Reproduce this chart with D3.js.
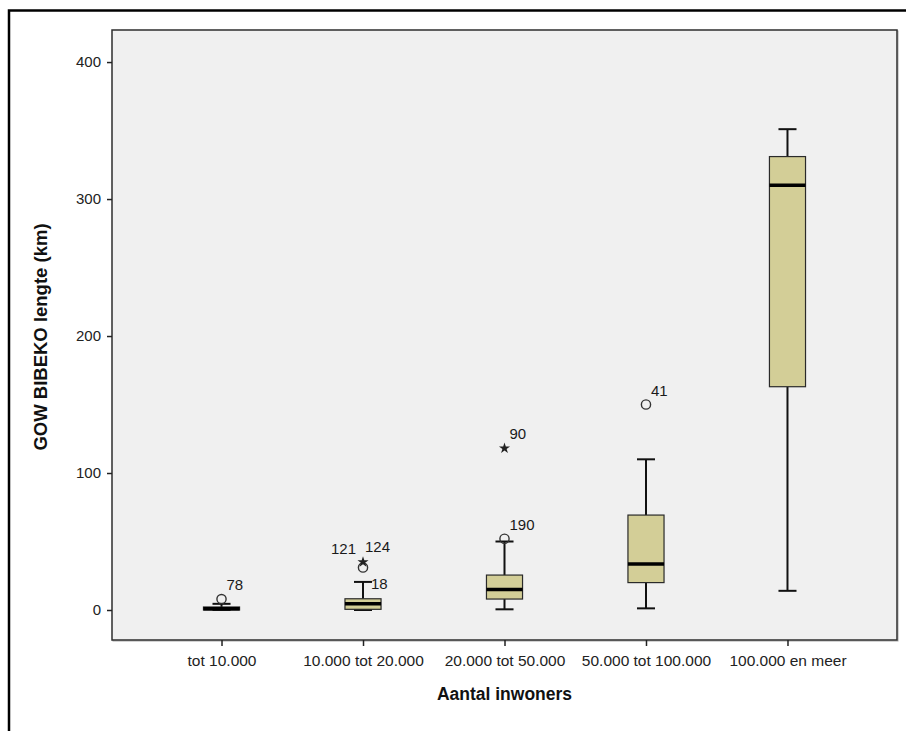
<!DOCTYPE html>
<html>
<head>
<meta charset="utf-8">
<script src="https://cdn.jsdelivr.net/npm/d3@7/dist/d3.min.js"></script>
<style>
  html, body { margin: 0; padding: 0; background: #ffffff; }
  svg { display: block; }
  text { font-family: "Liberation Sans", Arial, sans-serif; }
</style>
</head>
<body>
<svg id="chart" width="906" height="731"></svg>
<script>
// Population classes (x axis)
const categories = ["tot 10.000", "10.000 tot 20.000", "20.000 tot 50.000", "50.000 tot 100.000", "100.000 en meer"];

// Box-plot statistics per class, GOW BIBEKO length in km
const whiskerLow  = [0,   0,    0.5,  1.2,  14];
const quartile1   = [0,   0.5,  8,    20,   163];
const medians     = [1,   4.6,  15,   33.5, 310];
const quartile3   = [2.2, 8.2,  25.5, 69.3, 331];
const whiskerHigh = [4.5, 20.5, 50,   110,  351];

// Outlying cases: class index, value, case number, marker kind
const outlierCat   = [0,   1,     1,     2,     2,    3];
const outlierValue = [8,   31,    35,    52,    118,  150];
const outlierCase  = ["78", "121", "124", "190", "90", "41"];
const outlierKind  = ["circle", "circle", "star", "circle", "star", "circle"];

// Case label shown at the upper whisker of the second class
const whiskerCaseCat = [1];
const whiskerCaseLabel = ["18"];

// Y axis ticks
const yTicks = [0, 100, 200, 300, 400];

const yTitle = "GOW BIBEKO lengte (km)";
const xTitle = "Aantal inwoners";

// ---- layout ----
const svg = d3.select("#chart");
const plot = { left: 112, top: 30, right: 897, bottom: 640 };

const x = d3.scalePoint()
  .domain(categories)
  .range([plot.left, plot.right])
  .padding(0.774);

const y = d3.scaleLinear()
  .domain([-21.9, 423.4])
  .range([plot.bottom, plot.top]);

// outer frame (top and left edges visible)
svg.append("rect")
  .attr("x", 9).attr("y", 10.5)
  .attr("width", 1200).attr("height", 1200)
  .attr("fill", "none")
  .attr("stroke", "#000")
  .attr("stroke-width", 2.5);

// plot area with a soft shadow edge
svg.append("rect")
  .attr("x", plot.left + 1).attr("y", plot.top + 1)
  .attr("width", plot.right - plot.left).attr("height", plot.bottom - plot.top)
  .attr("fill", "none")
  .attr("stroke", "#a8a8a8")
  .attr("stroke-width", 1);
svg.append("rect")
  .attr("x", plot.left).attr("y", plot.top)
  .attr("width", plot.right - plot.left).attr("height", plot.bottom - plot.top)
  .attr("fill", "#f0f0f0")
  .attr("stroke", "#2e2e2e")
  .attr("stroke-width", 1.5);

// axes
const yAxis = d3.axisLeft(y).tickValues(yTicks).tickSize(5).tickPadding(6).tickFormat(d3.format("d"));
const gy = svg.append("g").attr("transform", `translate(${plot.left},0)`).call(yAxis);
gy.select(".domain").remove();
gy.selectAll(".tick line").attr("stroke", "#222").attr("stroke-width", 1.5);
gy.selectAll(".tick text").attr("fill", "#222").attr("font-size", 15)
  .attr("font-family", "'Liberation Sans', Arial, sans-serif");

const xAxis = d3.axisBottom(x).tickSize(6).tickPadding(9);
const gx = svg.append("g").attr("transform", `translate(0,${plot.bottom})`).call(xAxis);
gx.select(".domain").remove();
gx.selectAll(".tick line").attr("stroke", "#222").attr("stroke-width", 1.5);
gx.selectAll(".tick text").attr("fill", "#222").attr("font-size", 15.5)
  .attr("font-family", "'Liberation Sans', Arial, sans-serif");

// axis titles
svg.append("text")
  .attr("x", (plot.left + plot.right) / 2)
  .attr("y", 700)
  .attr("text-anchor", "middle")
  .attr("font-size", 17.5)
  .attr("font-weight", "bold")
  .attr("fill", "#111")
  .text(xTitle);

svg.append("text")
  .attr("transform", "translate(47,337) rotate(-90)")
  .attr("text-anchor", "middle")
  .attr("font-size", 18.5)
  .attr("font-weight", "bold")
  .attr("fill", "#111")
  .text(yTitle);

// ---- boxes ----
const boxW = x.step() * 0.255;
const capW = boxW * 0.5;
const boxData = categories.map((c, i) => ({
  c, lo: whiskerLow[i], q1: quartile1[i], med: medians[i], q3: quartile3[i], hi: whiskerHigh[i]
}));

const g = svg.append("g");
boxData.forEach(d => {
  const cx = x(d.c);
  // whiskers
  g.append("line").attr("x1", cx).attr("x2", cx).attr("y1", y(d.q3)).attr("y2", y(d.hi))
    .attr("stroke", "#111").attr("stroke-width", 2);
  g.append("line").attr("x1", cx).attr("x2", cx).attr("y1", y(d.q1)).attr("y2", y(d.lo))
    .attr("stroke", "#111").attr("stroke-width", 2);
  // caps
  [d.lo, d.hi].forEach(v => {
    g.append("line").attr("x1", cx - capW / 2).attr("x2", cx + capW / 2)
      .attr("y1", y(v)).attr("y2", y(v))
      .attr("stroke", "#111").attr("stroke-width", 2);
  });
  // box
  g.append("rect")
    .attr("x", cx - boxW / 2).attr("y", y(d.q3))
    .attr("width", boxW).attr("height", Math.max(0.5, y(d.q1) - y(d.q3)))
    .attr("fill", "#d3ce97")
    .attr("stroke", "#2a2a2a").attr("stroke-width", 1.2);
  // median
  g.append("line").attr("x1", cx - boxW / 2).attr("x2", cx + boxW / 2)
    .attr("y1", y(d.med)).attr("y2", y(d.med))
    .attr("stroke", "#000").attr("stroke-width", 3.5);
});

// ---- outliers ----
// label nudges where two case numbers would overlap
const labelNudge = { "121": { dx: -7, dy: -14, anchor: "end" }, "124": { dx: 2, dy: -10, anchor: "start" } };
const outliers = outlierValue.map((v, i) => ({
  c: categories[outlierCat[i]], v, id: outlierCase[i], kind: outlierKind[i]
}));
outliers.forEach(o => {
  const cx = x(o.c), cy = y(o.v);
  if (o.kind === "circle") {
    g.append("circle").attr("cx", cx).attr("cy", cy).attr("r", 4.6)
      .attr("fill", "none").attr("stroke", "#333").attr("stroke-width", 1.4);
  } else {
    g.append("path").attr("transform", `translate(${cx},${cy})`)
      .attr("d", d3.symbol(d3.symbolStar, 38)())
      .attr("fill", "#222");
  }
  const n = labelNudge[o.id] || { dx: 5, dy: -9, anchor: "start" };
  g.append("text").attr("x", cx + n.dx).attr("y", cy + n.dy)
    .attr("text-anchor", n.anchor)
    .attr("font-size", 15).attr("fill", "#1a1a1a")
    .text(o.id);
});

// case label at a whisker end
whiskerCaseCat.forEach((ci, i) => {
  const cx = x(categories[ci]);
  g.append("text").attr("x", cx + capW / 2 - 1).attr("y", y(whiskerHigh[ci]) + 7)
    .attr("font-size", 15).attr("fill", "#1a1a1a")
    .text(whiskerCaseLabel[i]);
});
</script>
</body>
</html>
